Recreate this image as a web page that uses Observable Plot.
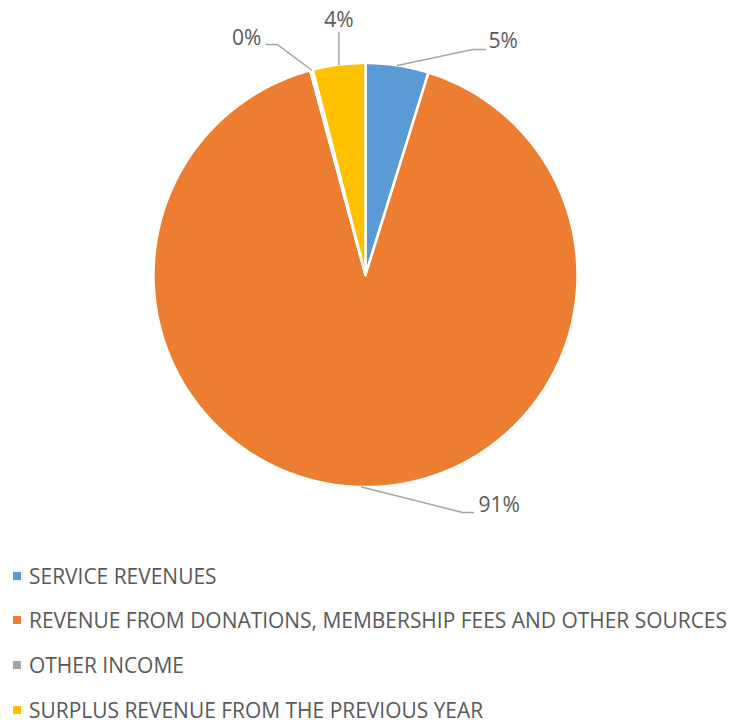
<!DOCTYPE html>
<html><head><meta charset="utf-8">
<script src="https://cdn.jsdelivr.net/npm/d3@7"></script>
<script src="https://cdn.jsdelivr.net/npm/@observablehq/plot@0.6"></script>
<style>
body{margin:0;background:#fff;font-family:"Open Sans",sans-serif;}
#wrap{position:relative;width:734px;height:725px;overflow:hidden;background:#fff}
#wrap svg{display:block}
.sw{position:absolute;left:13px;width:8px;height:8px}
.lt{position:absolute;left:29px;white-space:nowrap;color:#595959;font-size:21px;line-height:28px;transform-origin:left center;font-family:"Open Sans",sans-serif}
</style></head><body><div id="wrap"></div>
<script>
// ---- data ----
const categories = [
  "SERVICE REVENUES",
  "REVENUE FROM DONATIONS, MEMBERSHIP FEES AND OTHER SOURCES",
  "OTHER INCOME",
  "SURPLUS REVENUE FROM THE PREVIOUS YEAR"
];
const shares = [4.8, 91.0, 0.2, 4.0];
const colors = ["#5B9BD5", "#ED7D31", "#A5A5A5", "#FFC000"];

// ---- layout for data labels (pie radius units, y up) ----
const labelLayout = [
  {elbow: [0.505, 1.064], end: [0.566, 1.064], label: [0.580, 1.101], anchor: "start"},
  {elbow: [0.458, -1.120], end: [0.509, -1.120], label: [0.533, -1.087], anchor: "start"},
  {elbow: [-0.415, 1.087], end: [-0.467, 1.087], label: [-0.491, 1.116], anchor: "end"},
  {elbow: null, end: [-0.130, 1.144], label: [-0.130, 1.203], anchor: "middle"}
];

const total = d3.sum(shares);
const arcs = d3.pie().sort(null).value(d => d)(shares);

// slice polygons
const slicePts = [];
arcs.forEach((a, i) => {
  const name = categories[i];
  slicePts.push({name, x: 0, y: 0});
  const n = Math.max(2, Math.ceil((a.endAngle - a.startAngle) / (Math.PI / 360)));
  for (let k = 0; k <= n; k++) {
    const t = a.startAngle + (a.endAngle - a.startAngle) * k / n;
    slicePts.push({name, x: Math.sin(t), y: Math.cos(t)});
  }
  slicePts.push({name, x: 0, y: 0});
});

// leader lines + labels
const leaderPts = [];
const labelPts = [];
arcs.forEach((a, i) => {
  const L = labelLayout[i];
  const mid = (a.startAngle + a.endAngle) / 2;
  const name = categories[i];
  const r0 = 1.0;
  leaderPts.push({name, x: r0 * Math.sin(mid), y: r0 * Math.cos(mid)});
  if (L.elbow) leaderPts.push({name, x: L.elbow[0], y: L.elbow[1]});
  else leaderPts.push({name, x: r0 * Math.sin(mid), y: L.end[1]});
  if (L.elbow) leaderPts.push({name, x: L.end[0], y: L.end[1]});
  const xl = L.elbow ? L.label[0] : r0 * Math.sin(mid);
  labelPts.push({name, x: xl, y: L.label[1], text: Math.round(shares[i] / total * 100) + "%", anchor: L.anchor});
});

const chart = Plot.plot({
  width: 734, height: 550, margin: 0,
  style: {fontFamily: "'Open Sans', sans-serif", background: "#fff"},
  x: {domain: [-1, 1], range: [153, 577], axis: null},
  y: {domain: [-1, 1], range: [486.5, 62.5], axis: null},
  color: {domain: categories, range: colors},
  marks: [
    Plot.line(slicePts, {x: "x", y: "y", z: "name", fill: "name", stroke: "white", strokeWidth: 2.5, strokeLinejoin: "miter", curve: "linear"}),
    Plot.line(leaderPts, {x: "x", y: "y", z: "name", stroke: "#A6A6A6", strokeWidth: 1.5, curve: "linear"}),
    ...["start", "middle", "end"].map(anc =>
      Plot.text(labelPts.filter(d => d.anchor === anc), {x: "x", y: "y", text: "text", textAnchor: anc, fontSize: 21, fill: "#595959"}))
  ]
});
const wrap = document.getElementById("wrap");
wrap.appendChild(chart);

// legend below the chart
const legendCenters = [576, 620, 665, 710];
const spans = [];
categories.forEach((c, i) => {
  const sw = document.createElement("div");
  sw.className = "sw";
  sw.style.background = colors[i];
  sw.style.top = (legendCenters[i] - 4) + "px";
  wrap.appendChild(sw);
  const t = document.createElement("div");
  t.className = "lt";
  t.textContent = c;
  t.style.top = (legendCenters[i] - 14.5) + "px";
  wrap.appendChild(t);
  spans.push(t);
});
const widest = d3.max(spans, s => s.getBoundingClientRect().width);
const sx = 698 / widest;
spans.forEach(s => s.style.transform = `scaleX(${sx})`);
</script>
</body></html>
